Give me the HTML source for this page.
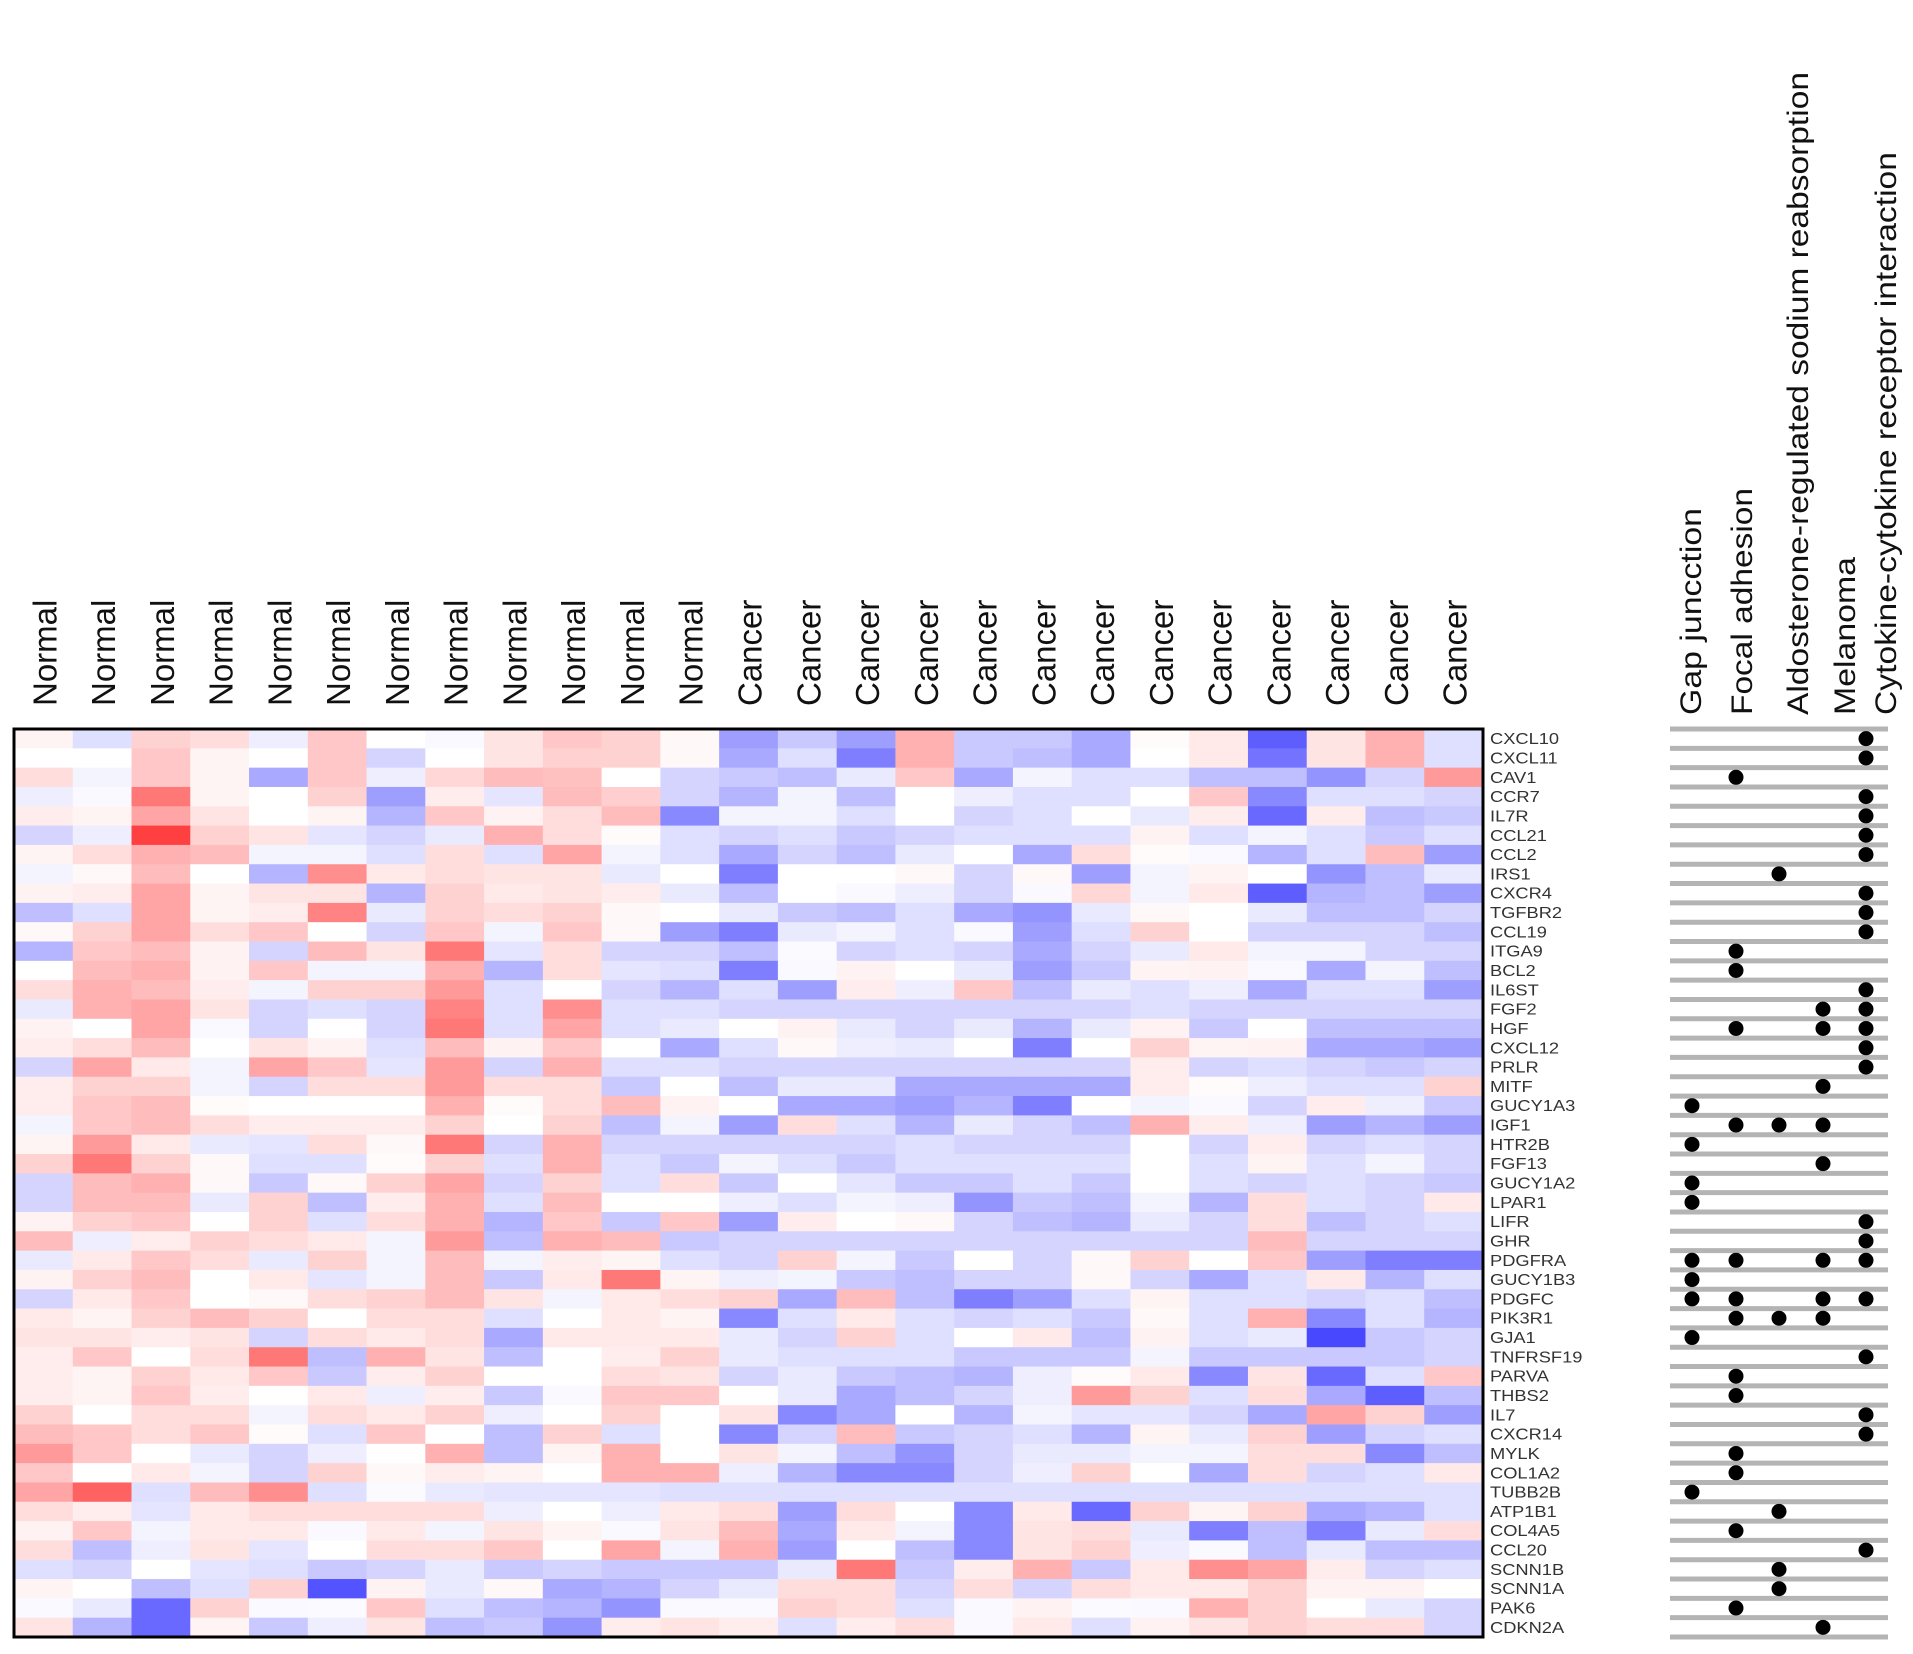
<!DOCTYPE html>
<html>
<head>
<meta charset="utf-8">
<style>
html,body{margin:0;padding:0;background:#fff;}
svg{display:block;font-family:"Liberation Sans",Arial,sans-serif;}
</style>
</head>
<body>
<svg id="chart" width="1913" height="1654" viewBox="0 0 1913 1654" xmlns="http://www.w3.org/2000/svg">
  <g id="cells"></g>
  <rect x="14" y="729" width="1469" height="908" fill="none" stroke="#000" stroke-width="3"/>
  <g id="collabels"></g>
  <g id="genelabels"></g>
  <g id="pathway"></g>
</svg>
<script>
const samples = ["Normal","Normal","Normal","Normal","Normal","Normal","Normal","Normal","Normal","Normal","Normal","Normal","Cancer","Cancer","Cancer","Cancer","Cancer","Cancer","Cancer","Cancer","Cancer","Cancer","Cancer","Cancer","Cancer"];
const genes = ["CXCL10","CXCL11","CAV1","CCR7","IL7R","CCL21","CCL2","IRS1","CXCR4","TGFBR2","CCL19","ITGA9","BCL2","IL6ST","FGF2","HGF","CXCL12","PRLR","MITF","GUCY1A3","IGF1","HTR2B","FGF13","GUCY1A2","LPAR1","LIFR","GHR","PDGFRA","GUCY1B3","PDGFC","PIK3R1","GJA1","TNFRSF19","PARVA","THBS2","IL7","CXCR14","MYLK","COL1A2","TUBB2B","ATP1B1","COL4A5","CCL20","SCNN1B","SCNN1A","PAK6","CDKN2A"];
const pathways = ["Gap juncction","Focal adhesion","Aldosterone-regulated sodium reabsorption","Melanoma","Cytokine-cytokine receptor interaction"];
// pathway membership: index of pathways per gene
const membership = [[4],[4],[1],[4],[4],[4],[4],[2],[4],[4],[4],[1],[1],[4],[3,4],[1,3,4],[4],[4],[3],[0],[1,2,3],[0],[3],[0],[0],[4],[4],[0,1,3,4],[0],[0,1,3,4],[1,2,3],[0],[4],[1],[1],[4],[4],[1],[1],[0],[2],[1],[4],[2],[2],[1],[3]];
// expression values (rows = genes, cols = samples), -1 blue .. +1 red
const values = [
[.05,-.15,.2,.15,-.08,.25,0,-.03,.12,.25,.2,.03,-.45,-.25,-.45,.35,-.25,-.25,-.4,.02,.1,-.75,.12,.35,-.15],
[0,0,.25,.05,0,.25,-.2,0,.12,.2,.2,.03,-.4,-.15,-.6,.35,-.25,-.3,-.4,0,.1,-.65,.12,.35,-.15],
[.15,-.05,.25,.05,-.4,.25,-.08,.18,.3,.28,0,-.2,-.25,-.3,-.1,.25,-.4,-.05,-.15,-.15,-.3,-.3,-.5,-.2,.45],
[-.08,-.03,.6,.05,0,.2,-.45,.08,-.12,.3,.22,-.2,-.35,-.05,-.3,0,-.08,-.15,-.15,0,.25,-.55,-.15,-.15,-.2],
[.08,.05,.4,.12,0,.05,-.35,.25,.06,.15,.3,-.55,-.05,-.05,-.15,0,-.2,-.15,0,-.1,.08,-.7,.08,-.3,-.25],
[-.2,-.08,.85,.2,.12,-.12,-.2,-.1,.35,.15,.02,-.15,-.2,-.15,-.25,-.2,-.15,-.15,-.15,.06,-.15,-.05,-.15,-.25,-.15],
[.05,.15,.35,.3,-.05,-.05,-.15,.15,-.15,.4,-.05,-.15,-.4,-.2,-.3,-.1,0,-.4,.15,.02,-.03,-.35,-.15,.3,-.45],
[-.05,.03,.3,0,-.35,.5,.1,.15,.12,.12,-.1,0,-.6,0,0,.03,-.2,.03,-.45,-.05,.05,0,-.5,-.3,-.1],
[.06,.08,.4,.05,.12,.12,-.35,.2,.1,.12,.08,-.1,-.3,0,-.03,-.08,-.2,-.03,.18,-.05,.1,-.75,-.35,-.3,-.45],
[-.3,-.15,.4,.05,.08,.55,-.1,.2,.15,.2,.03,0,-.1,-.25,-.3,-.15,-.4,-.5,-.1,.03,0,-.1,-.3,-.3,-.2],
[.03,.2,.4,.15,.25,0,-.2,.25,-.05,.25,.03,-.45,-.6,-.1,-.05,-.15,-.03,-.45,-.15,.2,0,-.2,-.2,-.2,-.3],
[-.35,.25,.3,.06,-.2,.3,.12,.6,-.12,.15,-.2,-.2,-.3,-.02,-.2,-.15,-.2,-.4,-.2,-.1,.1,-.05,-.05,-.2,-.2],
[0,.3,.35,.06,.25,-.05,-.05,.35,-.35,.15,-.12,-.15,-.6,-.03,.06,0,-.1,-.45,-.25,.05,.06,-.03,-.4,-.05,-.3],
[.15,.35,.3,.08,-.05,.2,.2,.45,-.15,0,-.2,-.35,-.15,-.45,.08,-.08,.25,-.3,-.1,-.15,-.08,-.4,-.15,-.15,-.45],
[-.1,.35,.4,.12,-.2,-.15,-.2,.55,-.15,.5,-.15,-.15,-.2,-.2,-.2,-.2,-.2,-.2,-.2,-.15,-.2,-.2,-.2,-.2,-.2],
[.06,0,.4,-.03,-.2,0,-.2,.6,-.15,.4,-.15,-.1,0,.06,-.1,-.2,-.1,-.35,-.1,.06,-.25,0,-.3,-.3,-.3],
[.08,.15,.3,0,.12,.06,-.15,.3,.06,.25,0,-.4,-.15,.03,-.08,-.1,0,-.6,0,.2,.05,.06,-.4,-.4,-.45],
[-.2,.4,.1,-.05,.4,.25,-.12,.45,-.2,.35,-.15,-.15,-.2,-.2,-.2,-.2,-.2,-.2,-.2,.08,-.2,-.15,-.2,-.25,-.2],
[.08,.2,.2,-.05,-.2,.15,.15,.45,.15,.15,-.25,0,-.3,-.1,-.1,-.4,-.4,-.4,-.4,.08,.02,-.08,-.15,-.15,.2],
[.08,.25,.3,.02,0,0,0,.35,.02,.15,.3,.06,0,-.4,-.4,-.45,-.35,-.6,0,-.05,-.03,-.2,.08,-.08,-.25],
[-.05,.25,.3,.15,.08,.08,.08,.2,0,.2,-.3,-.05,-.45,.15,-.15,-.35,-.1,-.2,-.3,.35,.08,-.08,-.45,-.35,-.45],
[.05,.45,.1,-.1,-.12,.15,.03,.6,-.2,.35,-.2,-.2,-.2,-.2,-.2,-.15,-.2,-.2,-.2,0,-.2,.08,-.2,-.15,-.2],
[.2,.6,.2,.03,-.15,-.15,.02,.2,-.15,.35,-.15,-.25,-.05,-.15,-.25,-.15,-.15,-.15,-.15,0,-.15,.05,-.15,-.05,-.2],
[-.2,.3,.35,.03,-.25,.03,.2,.4,-.2,.2,-.15,.15,-.25,0,-.12,-.25,-.25,-.15,-.25,0,-.15,-.2,-.15,-.2,-.25],
[-.2,.3,.3,-.1,.2,-.3,.08,.35,-.15,.3,0,0,-.08,-.15,-.05,-.08,-.5,-.25,-.3,-.05,-.35,.15,-.15,-.2,.1],
[.06,.2,.25,0,.2,-.15,.15,.35,-.35,.25,-.25,.25,-.45,.08,0,.03,-.2,-.3,-.35,-.1,-.2,.15,-.3,-.2,-.15],
[.3,-.08,.08,.2,.15,.1,-.05,.45,-.3,.35,.3,-.25,-.2,-.2,-.2,-.2,-.2,-.2,-.2,-.2,-.2,.3,-.2,-.2,-.2],
[-.1,.1,.25,.15,-.1,.2,-.05,.3,-.05,.08,.05,-.15,-.2,.2,-.05,-.25,0,-.2,.03,.2,0,.25,-.45,-.6,-.6],
[.06,.2,.3,0,.1,-.12,-.05,.3,-.25,.1,.6,.05,-.08,-.05,-.25,-.3,-.2,-.2,.03,-.2,-.4,-.15,.1,-.35,-.15],
[-.2,.1,.25,0,.03,.15,.2,.3,.12,-.05,.1,.15,.2,-.4,.3,-.3,-.6,-.45,-.15,.05,-.15,-.15,-.2,-.15,-.3],
[.1,.05,.2,.3,.2,0,.15,.15,-.15,0,.1,.05,-.55,-.15,.1,-.15,-.2,-.15,-.25,.03,-.15,.35,-.55,-.15,-.35],
[.12,.12,.08,.12,-.2,.15,.1,.15,-.4,.1,.1,.1,-.1,-.2,.2,-.15,0,.1,-.3,.06,-.15,-.1,-.85,-.25,-.2],
[.08,.25,0,.15,.6,-.3,.35,.12,-.3,0,.08,.2,-.1,-.15,-.15,-.15,-.25,-.25,-.25,-.05,-.25,-.25,-.25,-.25,-.2],
[.08,.05,.2,.1,.25,-.25,.08,.2,0,0,.15,.12,-.2,-.1,-.25,-.3,-.35,-.08,.02,.1,-.55,.12,-.7,-.15,.25],
[.08,.05,.25,.08,0,.1,-.08,.08,-.25,-.03,.25,.25,0,-.1,-.4,-.3,-.2,-.08,.45,.2,-.15,.15,-.4,-.75,-.3],
[.2,0,.15,.15,-.05,.15,.1,.2,-.08,0,.2,0,.12,-.55,-.4,0,-.35,-.05,-.12,-.12,-.2,-.4,.4,.2,-.45],
[.3,.25,.15,.25,.02,-.15,.25,0,-.3,.2,-.15,0,-.55,-.2,.3,-.25,-.2,-.15,-.35,.05,-.1,.2,-.45,-.2,-.15],
[.45,.25,0,-.1,-.2,-.08,0,.35,-.3,.05,.35,0,.12,-.05,-.3,-.5,-.2,-.1,-.1,-.05,-.05,.15,.15,-.55,-.3],
[.25,0,.1,-.05,-.2,.2,.03,.08,.05,0,.35,.35,-.08,-.35,-.55,-.55,-.2,-.08,.2,0,-.4,.15,-.2,-.15,.1],
[.4,.7,-.15,.3,.5,-.15,-.02,-.1,-.12,-.12,-.12,-.15,-.15,-.15,-.15,-.15,-.15,-.15,-.15,-.15,-.15,-.15,-.15,-.15,-.15],
[.15,.08,-.12,.1,.15,.15,.15,.15,-.08,0,-.08,.1,.15,-.45,.15,0,-.55,.1,-.7,.2,.05,.2,-.4,-.35,-.15],
[.06,.25,-.05,.1,.1,-.03,.1,-.05,.12,.05,-.03,.12,.3,-.4,.1,-.05,-.55,.12,.15,-.1,-.6,-.3,-.6,-.1,.15],
[.15,-.3,-.08,.12,-.12,0,.15,.15,.25,0,.4,-.05,.35,-.45,0,-.3,-.55,.12,.2,-.08,-.03,-.3,-.1,-.3,-.3],
[-.15,-.2,0,-.12,-.15,-.25,-.2,-.1,-.25,-.2,-.25,-.25,-.25,-.1,.6,-.25,.08,.35,-.25,.1,.5,.4,.08,-.2,-.15],
[.05,0,-.3,-.15,.2,-.8,.06,-.1,.03,-.4,-.35,-.2,-.1,.15,.15,-.2,.15,-.2,.15,.1,.1,.2,.06,.06,0],
[-.03,-.1,-.7,.2,-.03,-.02,.25,-.15,-.3,-.35,-.5,-.03,-.03,.2,.15,-.15,-.03,.06,-.02,-.03,.35,.2,0,-.1,-.2],
[.12,-.35,-.7,.05,-.25,-.08,.12,-.3,-.25,-.5,.08,.12,.08,-.15,.08,.15,-.03,.1,-.15,.06,.12,.2,.15,.15,-.2]
];

const NS = "http://www.w3.org/2000/svg";
const X0 = 14, X1 = 1483, Y0 = 729, Y1 = 1637;
const colW = (X1 - X0) / samples.length;
const rowH = (Y1 - Y0) / genes.length;
function xScale(i){ return X0 + i * colW; }
function yScale(j){ return Y0 + j * rowH; }
function color(v){
  v = Math.max(-1, Math.min(1, v));
  let r,g,b;
  if (v >= 0){ r = 255; g = Math.round(255 - 225*v); b = Math.round(255 - 225*v); }
  else { const t = -v; r = Math.round(255 - 215*t); g = Math.round(255 - 215*t); b = 255; }
  return "rgb(" + r + "," + g + "," + b + ")";
}
function mk(tag, attrs){ const e = document.createElementNS(NS, tag); for (const k in attrs) e.setAttribute(k, attrs[k]); return e; }

const cells = document.getElementById("cells");
values.forEach(function(row, j){
  row.forEach(function(v, i){
    const r = mk("rect", {x: xScale(i), y: yScale(j), width: colW + 0.6, height: rowH + 0.6, fill: color(v)});
    
    
    cells.appendChild(r);
  });
});

const cl = document.getElementById("collabels");
samples.forEach(function(s, i){
  const cx = xScale(i) + colW/2;
  const t = mk("text", {transform: "translate(" + (cx + 13) + ",706) rotate(-90)", "font-size": "33", fill: "#111"});
  t.textContent = s;
  
  
  cl.appendChild(t);
});

const gl = document.getElementById("genelabels");
genes.forEach(function(g, j){
  const cy = yScale(j) + rowH/2;
  const t = mk("text", {transform: "translate(1490," + (cy + 5.5) + ") scale(1.18,1)", "font-size": "15.5", fill: "#333"});
  t.textContent = g;
  
  
  gl.appendChild(t);
});

const pw = document.getElementById("pathway");
const dotX = [1692, 1736, 1779, 1823, 1866];
const labelX = [1701, 1752, 1808, 1855, 1896];
const labelLen = [207, 227, 643, 158, 563];
for (let k = 0; k <= genes.length; k++){
  const y = yScale(k);
  const l = mk("line", {x1: 1670, x2: 1888, y1: y, y2: y, stroke: "#b4b4b4", "stroke-width": 5});
  
  
  pw.appendChild(l);
}
membership.forEach(function(m, j){
  const cy = yScale(j) + rowH/2;
  m.forEach(function(p){
    const c = mk("circle", {cx: dotX[p], cy: cy, r: 7.5, fill: "#000"});
    
    
    pw.appendChild(c);
  });
});
pathways.forEach(function(p, k){
  const t = mk("text", {transform: "translate(" + labelX[k] + ",715) rotate(-90)", "font-size": "30", fill: "#111", textLength: labelLen[k], lengthAdjust: "spacingAndGlyphs"});
  t.textContent = p;
  
  
  pw.appendChild(t);
});
</script>
</body>
</html>
